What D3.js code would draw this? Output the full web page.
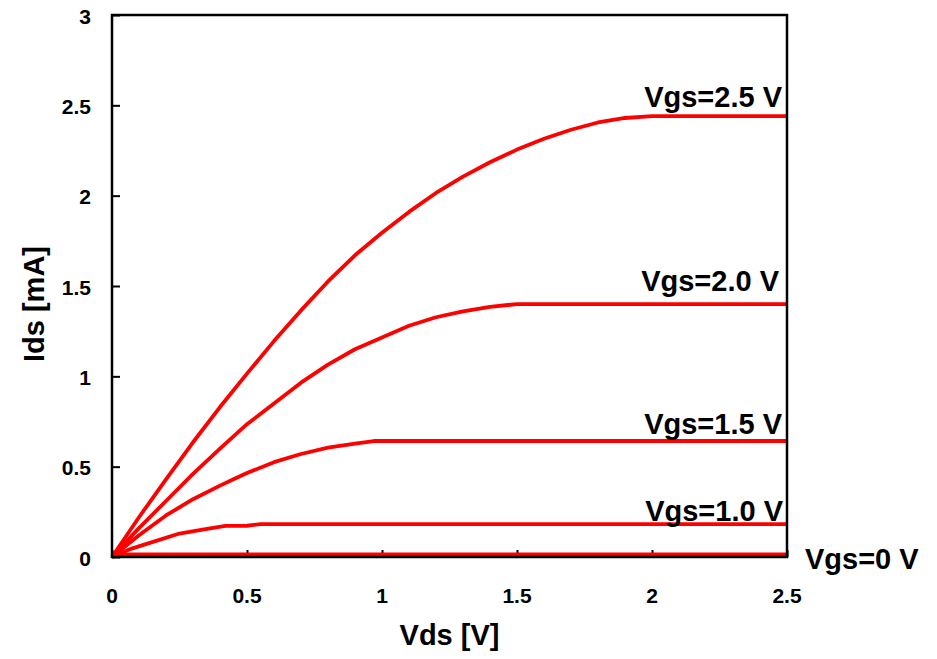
<!DOCTYPE html>
<html lang="en">
<head>
  <meta charset="UTF-8">
  <title>MOSFET Ids-Vds</title>
  <script src="https://d3js.org/d3.v7.min.js"></script>
  <style>
    body {
      margin: 0;
      background-color: #ffffff;
      font-family: "Liberation Sans", Arial, sans-serif;
    }
    svg text {
      font-weight: bold;
      fill: #000;
    }
  </style>
</head>
<body>

<div id="chart"></div>

<script>
  // data (Vds in V, Ids in mA)
  var vds25 = [0, 0.1, 0.2, 0.3, 0.4, 0.5, 0.6, 0.7, 0.8, 0.9, 1.0, 1.1, 1.2, 1.3, 1.4, 1.5, 1.6, 1.7, 1.8, 1.9, 2.0, 2.5];
  var ids25 = [0, 0.22, 0.43, 0.635, 0.83, 1.015, 1.195, 1.365, 1.525, 1.67, 1.795, 1.91, 2.015, 2.105, 2.185, 2.255, 2.315, 2.365, 2.405, 2.43, 2.44, 2.44];

  var vds20 = [0, 0.1, 0.2, 0.3, 0.4, 0.5, 0.6, 0.7, 0.8, 0.9, 1.0, 1.1, 1.2, 1.3, 1.4, 1.5, 2.5];
  var ids20 = [0, 0.16, 0.31, 0.46, 0.6, 0.735, 0.85, 0.965, 1.065, 1.15, 1.215, 1.28, 1.327, 1.36, 1.385, 1.4, 1.4];

  var vds15 = [0, 0.1, 0.2, 0.3, 0.4, 0.45, 0.5, 0.6, 0.7, 0.8, 0.9, 0.97, 2.5];
  var ids15 = [0, 0.12, 0.23, 0.32, 0.395, 0.43, 0.465, 0.525, 0.57, 0.605, 0.628, 0.642, 0.642];

  var vds10 = [0, 0.07, 0.14, 0.25, 0.33, 0.42, 0.5, 0.55, 2.5];
  var ids10 = [0, 0.045, 0.078, 0.13, 0.15, 0.172, 0.173, 0.182, 0.182];

  var vds0 = [0, 2.5];
  var ids0 = [0.015, 0.015];

  var curveNames = ["Vgs=2.5 V", "Vgs=2.0 V", "Vgs=1.5 V", "Vgs=1.0 V", "Vgs=0 V"];
  var xTicks = [0, 0.5, 1, 1.5, 2, 2.5];
  var yTicks = [0, 0.5, 1, 1.5, 2, 2.5, 3];

  var curves = [
    { name: curveNames[0], x: vds25, y: ids25 },
    { name: curveNames[1], x: vds20, y: ids20 },
    { name: curveNames[2], x: vds15, y: ids15 },
    { name: curveNames[3], x: vds10, y: ids10 },
    { name: curveNames[4], x: vds0, y: ids0 }
  ];

  var width = 937, height = 659;
  var plotLeft = 112, plotRight = 787, plotTop = 15, plotBottom = 557;

  var svg = d3.select("#chart")
    .append("svg")
    .attr("width", width)
    .attr("height", height);

  var x = d3.scaleLinear().domain([0, 2.5]).range([plotLeft, plotRight]);
  var y = d3.scaleLinear().domain([0, 3]).range([plotBottom, plotTop]);

  // ticks point inward
  var yAxis = d3.axisLeft(y).tickValues(yTicks).tickSize(-8).tickFormat("");
  var xAxis = d3.axisBottom(x).tickValues(xTicks).tickSize(-7).tickFormat("");

  var gy = svg.append("g").attr("transform", "translate(" + plotLeft + ",0)").call(yAxis);
  var gx = svg.append("g").attr("transform", "translate(0," + plotBottom + ")").call(xAxis);
  gy.select(".domain").remove();
  gx.select(".domain").remove();
  svg.selectAll(".tick line").attr("stroke", "#000").attr("stroke-width", 2);

  // tick labels
  svg.selectAll(".ylab")
    .data(yTicks)
    .enter().append("text")
    .attr("class", "ylab")
    .attr("x", 91)
    .attr("y", function(d) { return y(d) + 8.5; })
    .attr("text-anchor", "end")
    .style("font-size", "21px")
    .text(function(d) { return d; });

  svg.selectAll(".xlab")
    .data(xTicks)
    .enter().append("text")
    .attr("class", "xlab")
    .attr("x", function(d) { return x(d); })
    .attr("y", 603)
    .attr("text-anchor", "middle")
    .style("font-size", "21px")
    .text(function(d) { return d; });

  // curves
  var line = d3.line()
    .x(function(d) { return x(d[0]); })
    .y(function(d) { return y(d[1]); });

  svg.selectAll(".curve")
    .data(curves)
    .enter().append("path")
    .attr("class", "curve")
    .attr("d", function(c) { return line(d3.zip(c.x, c.y)); })
    .attr("fill", "none")
    .attr("stroke", "#ff0000")
    .attr("stroke-width", 3.8)
    .attr("stroke-linejoin", "round");

  // frame drawn over the curves
  svg.append("rect")
    .attr("x", plotLeft)
    .attr("y", plotTop)
    .attr("width", plotRight - plotLeft)
    .attr("height", plotBottom - plotTop)
    .attr("fill", "none")
    .attr("stroke", "#000")
    .attr("stroke-width", 2.5);

  // curve labels (pixel offsets from each curve's end value)
  var labelPos = [
    { dx: 782, dy: -9, anchor: "end" },
    { dx: 779, dy: -13, anchor: "end" },
    { dx: 782, dy: -7.5, anchor: "end" },
    { dx: 783, dy: -3.5, anchor: "end" },
    { dx: 805, dy: 15, anchor: "start" }
  ];
  svg.selectAll(".clab")
    .data(curves)
    .enter().append("text")
    .attr("class", "clab")
    .attr("x", function(c, i) { return labelPos[i].dx; })
    .attr("y", function(c, i) { return y(c.y[c.y.length - 1]) + labelPos[i].dy; })
    .attr("text-anchor", function(c, i) { return labelPos[i].anchor; })
    .style("font-size", "29px")
    .text(function(c) { return c.name; });

  // axis titles
  svg.append("text")
    .attr("x", (plotLeft + plotRight) / 2)
    .attr("y", 645)
    .attr("text-anchor", "middle")
    .style("font-size", "29px")
    .text("Vds [V]");

  svg.append("text")
    .attr("transform", "translate(44,304) rotate(-90)")
    .attr("text-anchor", "middle")
    .style("font-size", "29px")
    .text("Ids [mA]");
</script>

</body>
</html>
